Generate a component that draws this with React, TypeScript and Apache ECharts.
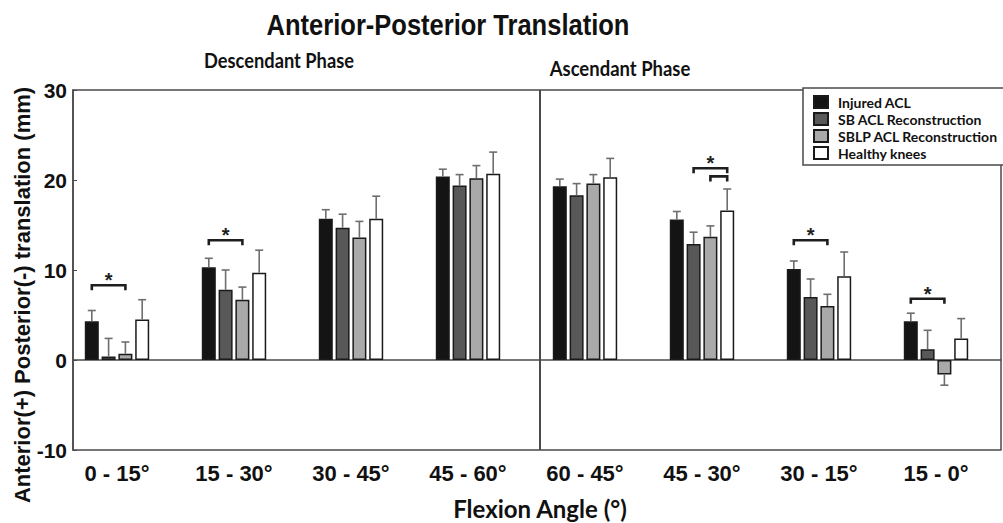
import React, { useEffect, useRef } from "react";
import * as echarts from "echarts";

// ---------- data ----------
const categories = ["0 - 15°", "15 - 30°", "30 - 45°", "45 - 60°", "60 - 45°", "45 - 30°", "30 - 15°", "15 - 0°"];
const seriesNames = ["Injured ACL", "SB ACL Reconstruction", "SBLP ACL Reconstruction", "Healthy knees"];

const injuredACL = [4.3, 10.3, 15.7, 20.4, 19.3, 15.6, 10.1, 4.3];
const injuredSD = [1.2, 1.0, 1.0, 0.8, 0.8, 0.9, 0.9, 0.9];
const sbACL = [0.4, 7.8, 14.7, 19.4, 18.3, 12.9, 7.0, 1.2];
const sbSD = [2.0, 2.2, 1.5, 1.2, 1.3, 1.3, 2.0, 2.1];
const sblpACL = [0.7, 6.7, 13.6, 20.2, 19.6, 13.7, 6.0, -1.6];
const sblpSD = [1.3, 1.4, 1.8, 1.4, 1.0, 1.2, 1.3, 1.2];
const healthy = [4.5, 9.7, 15.7, 20.7, 20.3, 16.6, 9.3, 2.4];
const healthySD = [2.2, 2.5, 2.5, 2.4, 2.1, 2.4, 2.7, 2.2];

const yTicks = { min: -10, max: 30, interval: 10 };

// significance brackets: category index, from bar, to bar, height (mm), show star
const bracketCat = [0, 1, 5, 5, 6, 7];
const bracketFrom = [0, 0, 1, 2, 0, 0];
const bracketTo = [2, 2, 3, 3, 2, 2];
const bracketY = [8.3, 13.3, 21.3, 20.4, 13.3, 6.8];
const bracketStar = [1, 1, 1, 0, 1, 1];

// ---------- styles ----------
const fills = ["#141414", "#585858", "#a9a9a9", "#ffffff"];
const BAR_W = 14;
const BAR_GAP = 0.2;
const barOffset = (i: number) => (i - 1.5) * BAR_W * (1 + BAR_GAP);
const ARIAL = "'Liberation Sans', Arial, sans-serif";
const CALIBRI = "Lato, 'Noto Sans', sans-serif";

export default function App() {
  const ref = useRef<HTMLDivElement>(null);

  useEffect(() => {
    if (!ref.current) return;
    const chart = echarts.init(ref.current, null, { renderer: "svg" });

    const values = [injuredACL, sbACL, sblpACL, healthy];
    const sds = [injuredSD, sbSD, sblpSD, healthySD];

    const barSeries = values.map((vals, i) => ({
      name: seriesNames[i],
      type: "bar",
      xAxisIndex: 0,
      yAxisIndex: 0,
      data: vals,
      barWidth: BAR_W,
      barGap: BAR_GAP * 100 + "%",
      itemStyle: { color: fills[i], borderColor: "#1a1a1a", borderWidth: 1.5 },
      z: 2,
    }));

    const errSeries = values.map((vals, i) => ({
      name: "err-" + i,
      type: "custom",
      xAxisIndex: 0,
      yAxisIndex: 0,
      silent: true,
      z: 3,
      data: vals.map((v, k) => [k, v, sds[i][k]]),
      renderItem: (params: any, api: any) => {
        const cat = api.value(0);
        const v = api.value(1);
        const sd = api.value(2);
        const end = v < 0 ? v - sd : v + sd;
        const p0 = api.coord([cat, v]);
        const p1 = api.coord([cat, end]);
        const x = p0[0] + barOffset(i);
        const style = { stroke: "#6e6e6e", lineWidth: 1.6 };
        return {
          type: "group",
          children: [
            { type: "line", shape: { x1: x, y1: p0[1], x2: x, y2: p1[1] }, style },
            { type: "line", shape: { x1: x - 4, y1: p1[1], x2: x + 4, y2: p1[1] }, style },
          ],
        };
      },
    }));

    const bracketSeries = {
      name: "brackets",
      type: "custom",
      xAxisIndex: 0,
      yAxisIndex: 0,
      silent: true,
      z: 4,
      data: bracketCat.map((c, k) => [c, bracketY[k], bracketFrom[k], bracketTo[k], bracketStar[k]]),
      renderItem: (params: any, api: any) => {
        const p = api.coord([api.value(0), api.value(1)]);
        const x1 = p[0] + barOffset(api.value(2));
        const x2 = p[0] + barOffset(api.value(3));
        const y = p[1];
        const children: any[] = [
          {
            type: "polyline",
            shape: { points: [[x1, y + 5], [x1, y], [x2, y], [x2, y + 5]] },
            style: { stroke: "#1e1e1e", lineWidth: 2.6, fill: "none" },
          },
        ];
        if (api.value(4)) {
          children.push({
            type: "text",
            x: (x1 + x2) / 2,
            y: y - 5,
            style: {
              text: "*",
              fill: "#1e1e1e",
              font: "bold 20px " + ARIAL,
              align: "center",
              verticalAlign: "middle",
            },
          });
        }
        return { type: "group", children };
      },
    };

    const option: any = {
      animation: false,
      backgroundColor: "#ffffff",
      grid: [
        { left: 58.5, right: 8.5, top: 90, bottom: 73 },
        { left: 73, right: 2, top: 90, bottom: 73, show: true, borderColor: "#4a4a4a", borderWidth: 1.5, backgroundColor: "transparent" },
      ],
      xAxis: [
        {
          type: "category",
          gridIndex: 0,
          data: categories,
          axisLine: { show: false, onZero: false },
          axisTick: { show: false },
          axisLabel: { fontFamily: ARIAL, fontWeight: "bold", fontSize: 22, color: "#111", margin: 12 },
        },
        {
          type: "value",
          gridIndex: 1,
          min: 0,
          max: 1,
          axisLine: { show: true, onZero: true, lineStyle: { color: "#4a4a4a", width: 1.5 } },
          axisTick: { show: false },
          axisLabel: { show: false },
          splitLine: { show: false },
        },
      ],
      yAxis: [
        { type: "value", gridIndex: 0, min: yTicks.min, max: yTicks.max, interval: yTicks.interval, show: false },
        {
          type: "value",
          gridIndex: 1,
          min: yTicks.min,
          max: yTicks.max,
          interval: yTicks.interval,
          axisLine: { show: true, onZero: false, lineStyle: { color: "#4a4a4a", width: 1.5 } },
          axisTick: { show: true, inside: true, length: 4, lineStyle: { color: "#4a4a4a" } },
          axisLabel: { fontFamily: ARIAL, fontWeight: "bold", fontSize: 21, color: "#111", margin: 6 },
          splitLine: { show: false },
        },
      ],
      legend: {
        data: seriesNames,
        orient: "vertical",
        left: 803,
        top: 88,
        padding: [7, 20, 5, 10],
        itemWidth: 14,
        itemHeight: 12,
        itemGap: 3,
        icon: "rect",
        selectedMode: false,
        borderColor: "#4a4a4a",
        borderWidth: 1.5,
        backgroundColor: "#fff",
        textStyle: { fontFamily: CALIBRI, fontWeight: "bold", fontSize: 14, color: "#111", padding: [0, 0, 0, 5] },
      },
      graphic: [
        {
          type: "text",
          x: 448,
          y: 25,
          scaleX: 0.88,
          style: { text: "Anterior-Posterior Translation", font: "bold 29px " + ARIAL, fill: "#111", align: "center", verticalAlign: "middle" },
        },
        {
          type: "text",
          x: 279,
          y: 60,
          scaleX: 0.87,
          style: { text: "Descendant Phase", font: "bold 21px " + CALIBRI, fill: "#111", align: "center", verticalAlign: "middle" },
        },
        {
          type: "text",
          x: 620,
          y: 68,
          scaleX: 0.88,
          style: { text: "Ascendant Phase", font: "bold 21px " + CALIBRI, fill: "#111", align: "center", verticalAlign: "middle" },
        },
        {
          type: "text",
          x: 540,
          y: 508,
          style: { text: "Flexion Angle (°)", font: "bold 24px " + CALIBRI, fill: "#111", align: "center", verticalAlign: "middle" },
        },
        {
          type: "text",
          x: 22,
          y: 295,
          rotation: Math.PI / 2,
          style: { text: "Anterior(+) Posterior(-) translation (mm)", font: "bold 22px " + ARIAL, fill: "#111", align: "center", verticalAlign: "middle" },
        },
        {
          type: "line",
          shape: { x1: 540, y1: 90, x2: 540, y2: 450 },
          style: { stroke: "#4a4a4a", lineWidth: 2 },
          z: 10,
        },
      ],
      series: [...barSeries, ...errSeries, bracketSeries],
    };

    chart.setOption(option);
    return () => chart.dispose();
  }, []);

  return (
    <div
      ref={ref}
      style={{ position: "fixed", left: 0, top: 0, width: 1003, height: 523, background: "#fff" }}
    />
  );
}
